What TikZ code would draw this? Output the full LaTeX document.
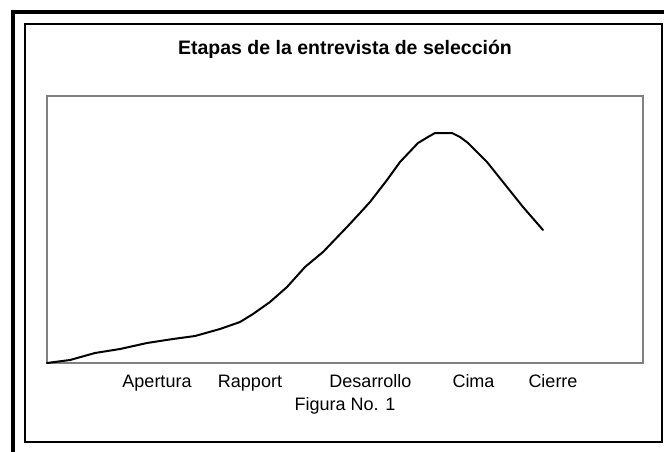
\documentclass[tikz,border=0pt]{standalone}
\usepackage{fontspec}
\setmainfont{Liberation Sans}
\begin{document}
\begin{tikzpicture}[x=1pt,y=-1pt,
  lbl/.style={anchor=base,inner sep=0pt,font=\fontsize{18}{20}\selectfont},
  ttl/.style={anchor=base,inner sep=0pt,font=\fontsize{19.5}{22}\selectfont\bfseries},
  frame/.style={draw=black,line width=2pt},
  plotarea/.style={draw=gray!100!white,color={rgb,255:red,128;green,128;blue,128},line width=2pt},
  curve/.style={draw=black,line width=2pt,line join=round,line cap=round}]
\useasboundingbox (0,0) rectangle (664,452);
\fill[white] (0,0) rectangle (664,452);
% outer thick border (left and top visible)
\draw[line width=4pt] (13,460) -- (13,12) -- (670,12);
% inner frame
\draw[frame] (25,24) rectangle (662,442);
% plot area
\draw[plotarea] (47,96) rectangle (643,363);
% curve
\draw[curve] (47,363) -- (70,360) -- (95,353) -- (120,349) -- (147,343) -- (173,339) -- (195,336) -- (220,329) -- (240,322) -- (253,314) -- (270,302) -- (287,287) -- (305,267) -- (323,252) -- (347,227) -- (360,213) -- (370,202) -- (387,180) -- (400,162) -- (418,143) -- (428,137) -- (435,133) -- (452,133) -- (460,137) -- (468,143) -- (487,162) -- (507,187) -- (523,207) -- (543,230);
% texts
\node[ttl] (title) at (345,55) {Etapas de la entrevista de selección};
\node[lbl] (apertura) at (157,387) {Apertura};
\node[lbl] (rapport) at (250,387) {Rapport};
\node[lbl] (desarrollo) at (370.5,387) {Desarrollo};
\node[lbl] (cima) at (473.5,387) {Cima};
\node[lbl] (cierre) at (553,387) {Cierre};
\node[lbl] (figura) at (345,410) {Figura No. 1};
\end{tikzpicture}
\end{document}
